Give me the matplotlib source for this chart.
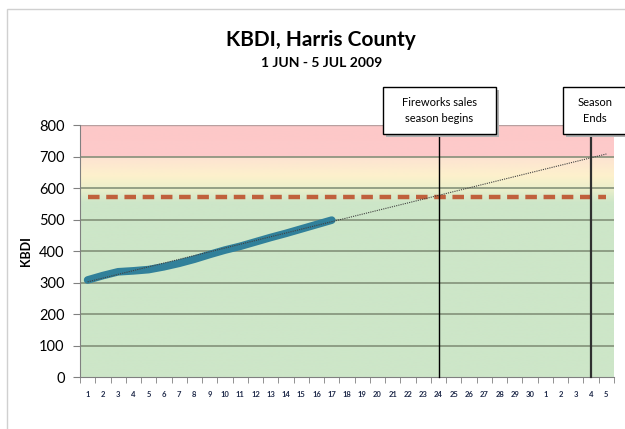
import matplotlib
matplotlib.use('Agg')
import matplotlib.pyplot as plt
import numpy as np
from matplotlib.colors import LinearSegmentedColormap
from matplotlib.patches import Rectangle

plt.rcParams['font.family'] = ['Lato', 'DejaVu Sans']

# day labels: 1 JUN .. 30 JUN, 1 JUL .. 5 JUL
day_labels = [str(d) for d in range(1, 31)] + ['1', '2', '3', '4', '5']
days = np.arange(1, len(day_labels) + 1)

# observed KBDI, 1-17 June
kbdi_days = [1, 2, 3, 4, 5, 6, 7, 8, 9, 10, 11, 12, 13, 14, 15, 16, 17]
kbdi = [308, 322, 334, 337, 341, 350, 361, 374, 389, 403, 415, 429, 443, 456, 470, 484, 498]

# linear trend drawn in the chart (end points)
trend_days = [1, 35]
trend_kbdi = [302, 708]

threshold = 571
fireworks_day = 24
season_end_day = 34

fig = plt.figure(figsize=(6.25, 4.29), dpi=100)
ax = fig.add_axes([0.128, 0.1212, 0.8544, 0.5874])

# background bands (green / yellow / red)
cmap = LinearSegmentedColormap.from_list('bands', [
    (0.0, '#cde6c8'), (555 / 800, '#cde6c8'), (600 / 800, '#ecefcb'),
    (640 / 800, '#fdf1cc'), (699 / 800, '#fde3d2'), (700 / 800, '#fdcaca'),
    (1.0, '#fdc8c8')])
grad = np.linspace(0, 1, 800).reshape(-1, 1)
ax.imshow(grad, extent=[0.5, 35.5, 0, 800], origin='lower', aspect='auto',
          cmap=cmap, zorder=0)

for v in range(100, 800, 100):
    ax.axhline(v, color='#7d8a73', lw=1.1, zorder=1)
ax.axhline(800, color='#b8a0a0', lw=1.0, zorder=1)

ax.plot(days, [threshold] * len(days), color='#c0603c', lw=3.2,
        dashes=(2.6, 1.5), zorder=2)

ax.plot(kbdi_days, kbdi, color='#31809a', lw=5.5, solid_capstyle='round',
        solid_joinstyle='round', zorder=3)
ax.plot(trend_days, trend_kbdi, color='#404040', lw=0.8, ls=(0, (1, 1)), zorder=4)

ax.set_xlim(0.5, 35.5)
ax.set_ylim(0, 800)
ax.set_yticks(range(0, 900, 100))
ax.set_xticks(days)
ax.set_xticklabels(day_labels, fontsize=5.5, fontweight='bold', color='#1f2a4a')
ax.set_xticks(np.arange(0.5, 36, 1), minor=True)
ax.tick_params(axis='x', which='major', length=0, pad=10)
ax.tick_params(axis='x', which='minor', length=4, color='#808080')
ax.tick_params(axis='y', length=5, color='#808080', labelsize=10.5, pad=6)
for s in ['top', 'right']:
    ax.spines[s].set_visible(False)
for s in ['left', 'bottom']:
    ax.spines[s].set_color('#808080')
ax.set_ylabel('KBDI', fontsize=9, fontweight='bold', labelpad=5)

# event lines and callout boxes
box_top = 1 - 87 / 429
box_bot = 1 - 134 / 429
line_top = (box_bot - 0.1212) / 0.5874 * 800
ax.plot([fireworks_day, fireworks_day], [0, line_top], color='black', lw=1.0,
        clip_on=False, zorder=5)
ax.plot([season_end_day, season_end_day], [0, line_top], color='#303030', lw=1.6,
        clip_on=False, zorder=5)

def callout(x0, x1, text, tx):
    shadow = Rectangle((x0 / 625 + 0.004, box_bot - 0.007), (x1 - x0) / 625,
                       box_top - box_bot, transform=fig.transFigure,
                       facecolor='#b0b0b0', edgecolor='none', zorder=6)
    box = Rectangle((x0 / 625, box_bot), (x1 - x0) / 625, box_top - box_bot,
                    transform=fig.transFigure, facecolor='white',
                    edgecolor='black', lw=1.0, zorder=7)
    fig.add_artist(shadow)
    fig.add_artist(box)
    fig.text(tx / 625, (box_top + box_bot) / 2, text, ha='center', va='center',
             fontsize=8, linespacing=1.5, zorder=8)

callout(383, 496, 'Fireworks sales\nseason begins', 439.5)
callout(563, 640, 'Season\nEnds', 595)

fig.text(0.514, 1 - 40 / 429, 'KBDI, Harris County', ha='center', va='center',
         fontsize=15, fontweight='bold')
fig.text(0.514, 1 - 63 / 429, '1 JUN - 5 JUL 2009', ha='center', va='center',
         fontsize=10, fontweight='bold')

# chart frame
fig.add_artist(Rectangle((7 / 625, -0.01), 1.0, 1 - 9 / 429 + 0.01,
                         transform=fig.transFigure, fill=False,
                         edgecolor='#d0d0d0', lw=1.0))

fig.savefig('out.png', dpi=100)
